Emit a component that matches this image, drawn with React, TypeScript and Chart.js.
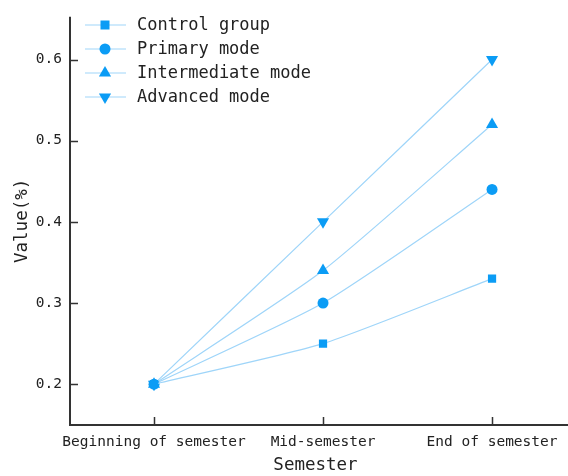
import React, { useEffect, useRef } from "react";
import { Chart, registerables } from "chart.js";

Chart.register(...registerables);

const categories = ["Beginning of semester", "Mid-semester", "End of semester"];
const controlGroup = [0.2, 0.25, 0.33];
const primaryMode = [0.2, 0.3, 0.44];
const intermediateMode = [0.2, 0.34, 0.52];
const advancedMode = [0.2, 0.4, 0.6];
const seriesNames = ["Control group", "Primary mode", "Intermediate mode", "Advanced mode"];
const yTicks = [0.2, 0.3, 0.4, 0.5, 0.6];

const MARKER = "#0b9cf5";
const LINE = "#9fd5f9";
const TEXT = "#222222";
const AXIS = "#333333";
const FONT = "'DejaVu Sans Mono', 'Liberation Mono', monospace";

export default function App() {
  const ref = useRef<HTMLCanvasElement | null>(null);
  useEffect(() => {
    if (!ref.current) return;
    const styles = [
      { pointStyle: "rect", rotation: 0, radius: 5.8, lr: 4.5 },
      { pointStyle: "circle", rotation: 0, radius: 5.5, lr: 5.5 },
      { pointStyle: "triangle", rotation: 0, radius: 7, lr: 7 },
      { pointStyle: "triangle", rotation: 180, radius: 7, lr: 7 },
    ];
    const series = [controlGroup, primaryMode, intermediateMode, advancedMode];
    const datasets = series.map((vals, i) => ({
      label: seriesNames[i],
      data: vals.map((v, j) => ({ x: j, y: v })),
      borderColor: LINE,
      backgroundColor: MARKER,
      borderWidth: 1.2,
      tension: 0.2,
      pointStyle: styles[i].pointStyle as any,
      rotation: styles[i].rotation,
      pointRadius: styles[i].radius,
      pointBackgroundColor: MARKER,
      pointBorderColor: MARKER,
      pointBorderWidth: 0,
    }));

    function drawMarker(ctx: any, style: string, rot: number, r: number, x: number, y: number) {
      ctx.save();
      ctx.translate(x, y);
      ctx.rotate((rot * Math.PI) / 180);
      ctx.beginPath();
      if (style === "rect") {
        ctx.rect(-r, -r, r * 2, r * 2);
      } else if (style === "circle") {
        ctx.arc(0, 0, r, 0, Math.PI * 2);
      } else {
        ctx.moveTo(0, -r);
        ctx.lineTo(r * 0.87, r * 0.5);
        ctx.lineTo(-r * 0.87, r * 0.5);
        ctx.closePath();
      }
      ctx.fill();
      ctx.restore();
    }

    const customPlugin = {
      id: "custom",
      afterDraw(chart: any) {
        const ctx = chart.ctx;
        const xs = chart.scales.x;
        const ys = chart.scales.y;
        const area = chart.chartArea;
        ctx.save();
        ctx.strokeStyle = AXIS;
        ctx.lineWidth = 2;
        ctx.beginPath();
        ctx.moveTo(area.left, area.top);
        ctx.lineTo(area.left, area.bottom);
        ctx.lineTo(568, area.bottom);
        ctx.stroke();
        ctx.lineWidth = 1.5;
        ctx.beginPath();
        yTicks.forEach((t) => {
          const y = Math.round(ys.getPixelForValue(t)) + 0.5;
          ctx.moveTo(area.left, y);
          ctx.lineTo(area.left + 8, y);
        });
        categories.forEach((_, j) => {
          const x = Math.round(xs.getPixelForValue(j)) + 0.5;
          ctx.moveTo(x, area.bottom);
          ctx.lineTo(x, area.bottom - 8);
        });
        ctx.stroke();
        ctx.font = "17px " + FONT;
        ctx.textBaseline = "middle";
        ctx.textAlign = "left";
        chart.data.datasets.forEach((ds: any, i: number) => {
          const y = 25 + i * 24;
          ctx.strokeStyle = LINE;
          ctx.lineWidth = 1.2;
          ctx.beginPath();
          ctx.moveTo(85, y);
          ctx.lineTo(126, y);
          ctx.stroke();
          ctx.fillStyle = MARKER;
          drawMarker(ctx, styles[i].pointStyle, styles[i].rotation, styles[i].lr, 105, y);
          ctx.fillStyle = TEXT;
          ctx.fillText(ds.label, 137, y + 1);
        });
        ctx.restore();
      },
    };

    const chart = new Chart(ref.current, {
      type: "line",
      data: { datasets: datasets as any },
      options: {
        animation: false,
        responsive: false,
        devicePixelRatio: 1,
        layout: { padding: { top: 15, right: 0, left: 0, bottom: 0 } },
        plugins: { legend: { display: false }, tooltip: { enabled: false } },
        scales: {
          x: {
            type: "linear",
            min: -0.497,
            max: 2.408,
            afterBuildTicks: (s: any) => {
              s.ticks = categories.map((_, j) => ({ value: j }));
            },
            afterFit: (s: any) => {
              s.height = 51;
            },
            ticks: {
              callback: (v: any) => categories[v as number] ?? "",
              color: TEXT,
              font: { family: FONT, size: 14.5 },
              padding: 9,
              maxRotation: 0,
              autoSkip: false,
            },
            grid: { display: false, drawTicks: false },
            border: { display: false },
            title: {
              display: true,
              text: "Semester",
              color: TEXT,
              font: { family: FONT, size: 17.5 },
              padding: { top: 7, bottom: 0 },
            },
          },
          y: {
            type: "linear",
            min: 0.1497,
            max: 0.6528,
            afterBuildTicks: (s: any) => {
              s.ticks = yTicks.map((v) => ({ value: v }));
            },
            afterFit: (s: any) => {
              s.width = 70;
            },
            ticks: {
              callback: (v: any) => Number(v).toFixed(1),
              color: TEXT,
              font: { family: FONT, size: 14.5 },
              padding: 8,
            },
            grid: { display: false, drawTicks: false },
            border: { display: false },
            title: {
              display: true,
              text: "Value(%)",
              color: TEXT,
              font: { family: FONT, size: 17.5 },
              padding: { top: 12, bottom: 0 },
            },
          },
        },
      },
      plugins: [customPlugin],
    });
    return () => chart.destroy();
  }, []);

  return (
    <div style={{ position: "absolute", left: 0, top: 0, width: 568, height: 476, background: "#fff" }}>
      <canvas ref={ref} width={568} height={476} style={{ width: 568, height: 476 }} />
    </div>
  );
}
